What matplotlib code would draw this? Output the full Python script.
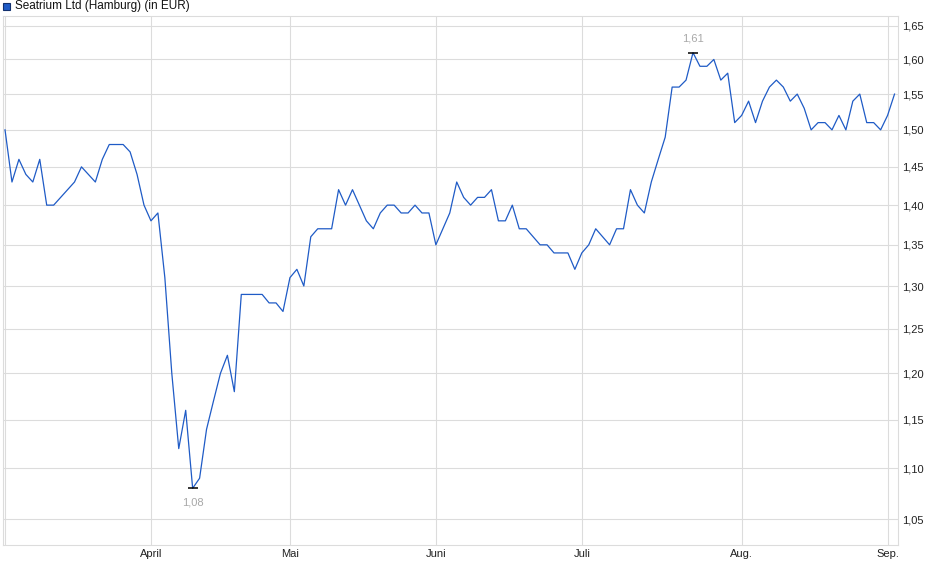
import numpy as np
import matplotlib
matplotlib.use('Agg')
import matplotlib.pyplot as plt
from matplotlib.ticker import FixedLocator, FuncFormatter, NullLocator
from matplotlib.patches import Rectangle

# daily closing prices (EUR), one value per trading day, early March to early Sept
prices = [
    1.50, 1.43, 1.46, 1.44, 1.43, 1.46, 1.40, 1.40, 1.41, 1.42,
    1.43, 1.45, 1.44, 1.43, 1.46, 1.48, 1.48, 1.48, 1.47, 1.44,
    1.40, 1.38, 1.39, 1.31, 1.20, 1.12, 1.16, 1.08, 1.09, 1.14,
    1.17, 1.20, 1.22, 1.18, 1.29, 1.29, 1.29, 1.29, 1.28, 1.28,
    1.27, 1.31, 1.32, 1.30, 1.36, 1.37, 1.37, 1.37, 1.42, 1.40,
    1.42, 1.40, 1.38, 1.37, 1.39, 1.40, 1.40, 1.39, 1.39, 1.40,
    1.39, 1.39, 1.35, 1.37, 1.39, 1.43, 1.41, 1.40, 1.41, 1.41,
    1.42, 1.38, 1.38, 1.40, 1.37, 1.37, 1.36, 1.35, 1.35, 1.34,
    1.34, 1.34, 1.32, 1.34, 1.35, 1.37, 1.36, 1.35, 1.37, 1.37,
    1.42, 1.40, 1.39, 1.43, 1.46, 1.49, 1.56, 1.56, 1.57, 1.61,
    1.59, 1.59, 1.60, 1.57, 1.58, 1.51, 1.52, 1.54, 1.51, 1.54,
    1.56, 1.57, 1.56, 1.54, 1.55, 1.53, 1.50, 1.51, 1.51, 1.50,
    1.52, 1.50, 1.54, 1.55, 1.51, 1.51, 1.50, 1.52, 1.55,
]

# index of first trading day of each month
month_pos = [0, 21, 41, 62, 83, 106, 127]
month_labels = ['', 'April', 'Mai', 'Juni', 'Juli', 'Aug.', 'Sep.']
y_ticks = [1.05, 1.10, 1.15, 1.20, 1.25, 1.30, 1.35, 1.40, 1.45, 1.50, 1.55, 1.60, 1.65]

LINE = '#1f5bc6'
GRID = '#dcdcdc'

plt.rcParams['font.family'] = ['Liberation Sans', 'DejaVu Sans']

W, H = 940, 579
fig = plt.figure(figsize=(W / 100, H / 100), dpi=100)
ax = fig.add_axes([3 / W, 1 - 545 / H, 895 / W, 529 / H])

x = np.arange(len(prices))
ax.plot(x, prices, color=LINE, lw=0.9, zorder=3)

ax.set_yscale('log')
ax.set_ylim(1.0253, 1.665)
ax.set_xlim(-0.29, 128.5)

ax.yaxis.set_major_locator(FixedLocator(y_ticks))
ax.yaxis.set_minor_locator(NullLocator())
ax.yaxis.set_major_formatter(FuncFormatter(lambda v, p: f'{v:.2f}'.replace('.', ',')))
ax.yaxis.tick_right()
ax.set_xticks(month_pos)
ax.set_xticklabels(month_labels)

ax.tick_params(axis='both', length=0, labelsize=8, colors='#222222')
ax.tick_params(axis='y', pad=3)
ax.tick_params(axis='x', pad=3)

ax.grid(True, color=GRID, lw=0.8, zorder=0)
for s in ax.spines.values():
    s.set_color(GRID)
    s.set_linewidth(0.8)

# high / low markers
i_max = int(np.argmax(prices))
i_min = int(np.argmin(prices))
for i, dy, va in [(i_max, 9, 'bottom'), (i_min, -9, 'top')]:
    ax.plot(x[i], prices[i], marker='_', ms=7, mew=1.1, color='black', zorder=4)
    ax.annotate(f'{prices[i]:.2f}'.replace('.', ','), (x[i], prices[i]),
                xytext=(0, dy), textcoords='offset pixels',
                ha='center', va=va, fontsize=8, color='#a8a8a8')

# legend-like title
fig.patches.append(Rectangle((3 / W, 1 - 10 / H), 7 / W, 7 / H, transform=fig.transFigure,
                             facecolor=LINE, edgecolor='#12306e', lw=0.8))
fig.text(15 / W, 1 - 6.5 / H, 'Seatrium Ltd (Hamburg) (in EUR)', fontsize=8.5,
         va='center', ha='left', color='#111111')

fig.savefig('out.png', dpi=100)
